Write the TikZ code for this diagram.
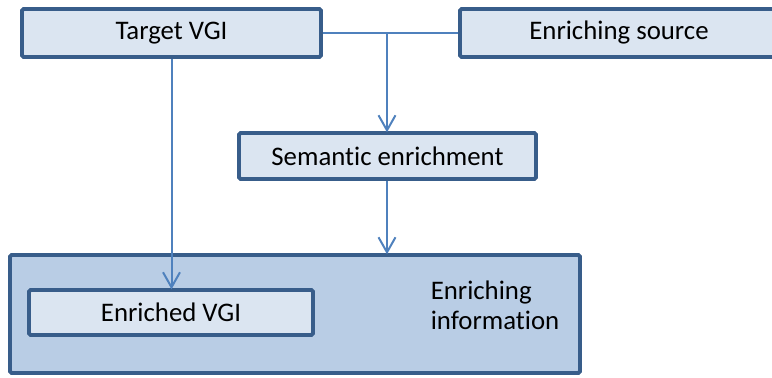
\documentclass[tikz,border=0pt]{standalone}
\usepackage{fontspec}
\setmainfont{Carlito}[Ligatures=NoCommon]
\usetikzlibrary{arrows.meta}
\definecolor{bordc}{HTML}{385D8A}
\definecolor{lightfill}{HTML}{DBE5F1}
\definecolor{darkfill}{HTML}{B9CDE5}
\definecolor{linkc}{HTML}{4F81BD}
\tikzset{
  box/.style={draw=bordc, line width=1.9pt, fill=lightfill, rounded corners=0.8pt,
    inner sep=0pt, text=black, font=\fontsize{13.4}{15}\selectfont},
  bigbox/.style={box, fill=darkfill},
  link/.style={draw=linkc, line width=1pt},
  arr/.style={link, -{Straight Barb[length=7.5pt,width=8.5pt,line width=1pt]}, shorten >=-0.6pt}
}
\begin{document}
\begin{tikzpicture}[x=0.5pt,y=-0.5pt]
\useasboundingbox (0,0) rectangle (772,378);
\clip (0,0) rectangle (772,378);
\node[box, minimum width=299pt*0.5, minimum height=48pt*0.5] (tv) at (171.5,33) {Target VGI};
\node[box, minimum width=318pt*0.5, minimum height=48pt*0.5] (es) at (619,33) {Enriching source};
\node[box, minimum width=297pt*0.5, minimum height=46pt*0.5] (se) at (387.5,156) {Semantic enrichment};
\node[bigbox, minimum width=570pt*0.5, minimum height=118pt*0.5] (big) at (295,314) {};
\node[box, minimum width=284pt*0.5, minimum height=45pt*0.5] (ev) at (171,312.5) {Enriched VGI};
\node[font=\fontsize{13.4}{15}\selectfont, align=left, inner sep=0pt] (ei) at (495,305) {Enriching\\information};
\coordinate (j) at (387,33);
\draw[link] (tv.east) -- (es.west);
\draw[arr] (j) -- (j |- se.north);
\draw[arr] (tv.south) -- (tv.south |- ev.north);
\draw[arr] (j |- se.south) -- (j |- big.north);
\end{tikzpicture}
\end{document}
